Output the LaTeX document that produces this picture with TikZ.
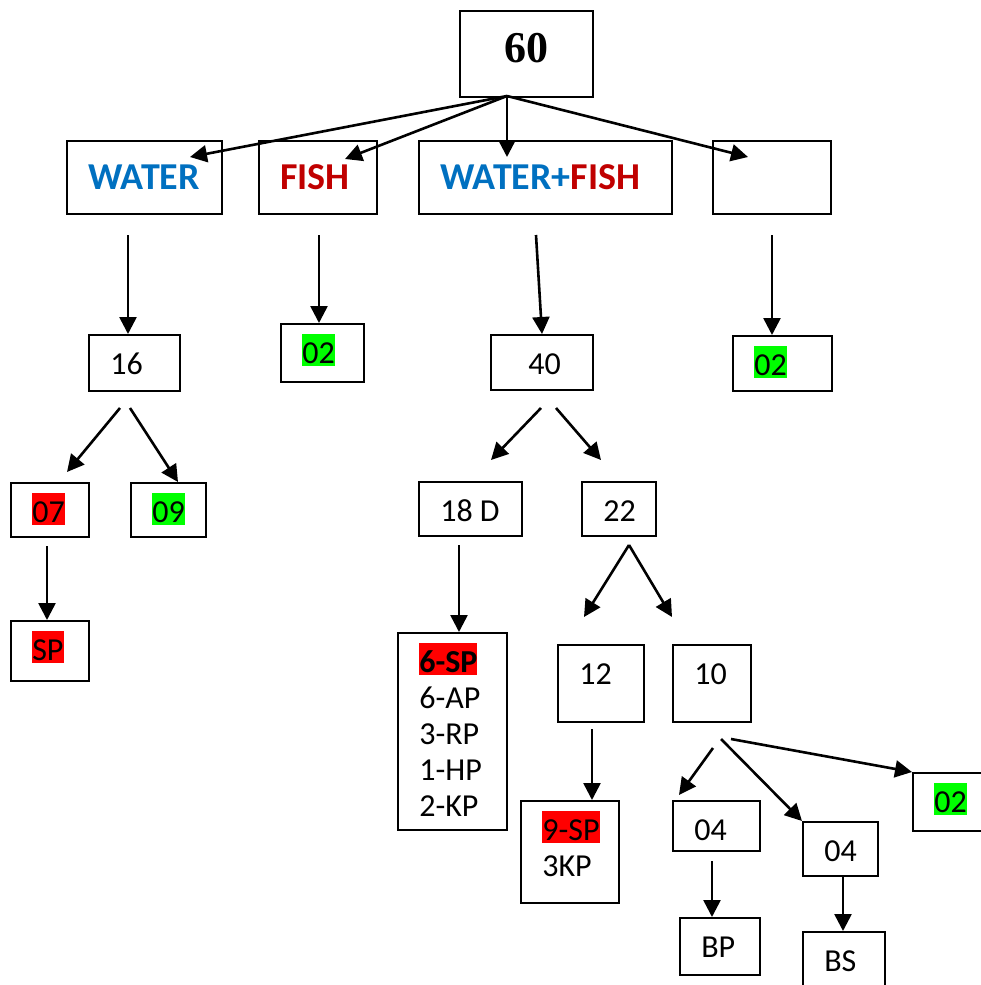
\documentclass[tikz,border=0pt]{standalone}
\usepackage{fontspec}
\setmainfont{Carlito}
\newfontfamily\serifnum{Liberation Serif}
\usetikzlibrary{arrows.meta, calc}
\definecolor{waterblue}{HTML}{0070C0}
\definecolor{fishred}{HTML}{C00000}
\definecolor{markred}{HTML}{FF0000}
\definecolor{markgreen}{HTML}{00FF00}
\newcommand{\linestrut}{\rule[-1.4pt]{0pt}{15.9pt}}
\newcommand{\hilite}[2]{{\setlength{\fboxsep}{0pt}\colorbox{#1}{\linestrut#2}}}

\begin{document}
\begin{tikzpicture}[
    x = 0.5pt, y = -0.5pt,
    line width = 1.3pt,
    > = {Triangle[length = 8.5pt, width = 8.5pt]},
    box/.style 2 args = {draw,
      line width = 1pt,
      anchor = north west,
      inner sep = 0pt,
      minimum width = #1*0.5pt,
      minimum height = #2*0.5pt},
    txt/.style = {label = {[anchor = north west, xshift = 10.5pt,
          yshift = -5pt, inner sep = 0pt, align = left,
          font = \fontsize{16}{18}\selectfont]north west:\linestrut #1}},
    head/.style = {label = {[anchor = west, xshift = 10.5pt,
          inner sep = 0pt,
          font = \fontsize{19}{22}\selectfont\bfseries]west:#1}}
    ]
    \useasboundingbox (0, 0) rectangle (980, 985);

    % first two rows
    \node at (459, 10) [box = {133}{86}, name = total,
      label = {[yshift = 3pt,
          font = \serifnum\fontsize{22}{26}\selectfont\bfseries]center:60}] {};
    \node at (66, 140) [box = {155}{73}, name = water,
      head = {\color{waterblue}WATER}] {};
    \node at (258, 140) [box = {118}{73}, name = fish,
      head = {\color{fishred}FISH}] {};
    \node at (418, 140) [box = {253}{73}, name = both,
      head = {\color{waterblue}WATER+\color{fishred}FISH}] {};
    \node at (712, 140) [box = {118}{73}, name = other] {};

    \coordinate (t0) at (507, 96);
    \coordinate (t1) at (190, 157);
    \coordinate (t2) at (345, 159);
    \coordinate (t3) at (507, 157);
    \coordinate (t4) at (748, 157);
    \draw [->] (t0) -- (t1);
    \draw [->] (t0) -- (t2);
    \draw [->] (t0) -- (t3);
    \draw [->] (t0) -- (t4);

    % counts
    \node at (88, 334) [box = {91}{56}, name = n16, txt = {16}] {};
    \node at (280, 323) [box = {83}{58}, name = n02a,
      txt = {\hilite{markgreen}{02}}] {};
    \node at (490, 334) [box = {102}{55}, name = n40,
      txt = {\hspace{8pt}40}] {};
    \node at (732, 335) [box = {99}{55}, name = n02b,
      txt = {\hilite{markgreen}{02}}] {};

    \coordinate (w0) at (128, 235);
    \coordinate (f0) at (319, 235);
    \coordinate (b0) at (536, 235);
    \coordinate (o0) at (772, 235);
    \draw [->] (w0) -- (w0 |- n16.north);
    \draw [->] (f0) -- (f0 |- n02a.north);
    \draw [->] (b0) -- (n40.north);
    \draw [->] (o0) -- (o0 |- n02b.north);

    % water side
    \node at (10, 482) [box = {78}{54}, name = n07,
      txt = {\hilite{markred}{07}}] {};
    \node at (130, 482) [box = {75}{54}, name = n09,
      txt = {\hilite{markgreen}{09}}] {};
    \node at (10, 620) [box = {78}{60}, name = nsp,
      txt = {\hilite{markred}{SP}}] {};

    \coordinate (w1) at (120, 408);
    \coordinate (w2) at (130, 408);
    \coordinate (w3) at (67, 472);
    \coordinate (w4) at (178, 482);
    \coordinate (w5) at (47, 546);
    \draw [->] (w1) -- (w3);
    \draw [->] (w2) -- (w4);
    \draw [->] (w5) -- (w5 |- nsp.north);

    % water+fish side
    \node at (418, 481) [box = {103}{54}, name = n18, txt = {18 D}] {};
    \node at (581, 481) [box = {74}{54}, name = n22, txt = {22}] {};
    \node at (397, 632) [box = {109}{197}, name = nlist,
      txt = {\hilite{markred}{\bfseries 6-SP}\\6-AP\\3-RP\\1-HP\\2-KP}] {};
    \node at (557, 644) [box = {86}{77}, name = n12, txt = {12}] {};
    \node at (672, 644) [box = {78}{77}, name = n10, txt = {10}] {};
    \node at (520, 800) [box = {98}{102}, name = n9sp,
      txt = {\hilite{markred}{9-SP}\\3KP}] {};

    \coordinate (m1) at (541, 408);
    \coordinate (m2) at (556, 408);
    \coordinate (m3) at (491, 460);
    \coordinate (m4) at (601, 460);
    \coordinate (m5) at (459, 545);
    \coordinate (m6) at (629, 545);
    \coordinate (m7) at (584, 617);
    \coordinate (m8) at (672, 617);
    \coordinate (m9) at (592, 729);
    \draw [->] (m1) -- (m3);
    \draw [->] (m2) -- (m4);
    \draw [->] (m5) -- (m5 |- nlist.north);
    \draw [->] (m6) -- (m7);
    \draw [->] (m6) -- (m8);
    \draw [->] (m9) -- (m9 |- n9sp.north);

    % under 10
    \node at (672, 800) [box = {87}{50}, name = n04a, txt = {04}] {};
    \node at (802, 821) [box = {75}{54}, name = n04b, txt = {04}] {};
    \node at (912, 772) [box = {72}{58}, name = n02c,
      txt = {\hilite{markgreen}{02}}] {};
    \node at (679, 917) [box = {80}{57}, name = nbp, txt = {BP}] {};
    \node at (802, 931) [box = {82}{60}, name = nbs, txt = {BS}] {};

    \coordinate (k1) at (713, 748);
    \coordinate (k2) at (721, 739);
    \coordinate (k3) at (731, 739);
    \coordinate (k4) at (679, 795);
    \coordinate (k5) at (712, 861);
    \draw [->] (k1) -- (k4);
    \draw [->] (k2) -- (n04b.north west);
    \draw [->] (k3) -- (n02c.north west);
    \draw [->] (k5) -- (k5 |- nbp.north);
    \draw [->] (n04b.south -| 843, 0) -- (nbs.north -| 843, 0);

  \end{tikzpicture}
\end{document}
